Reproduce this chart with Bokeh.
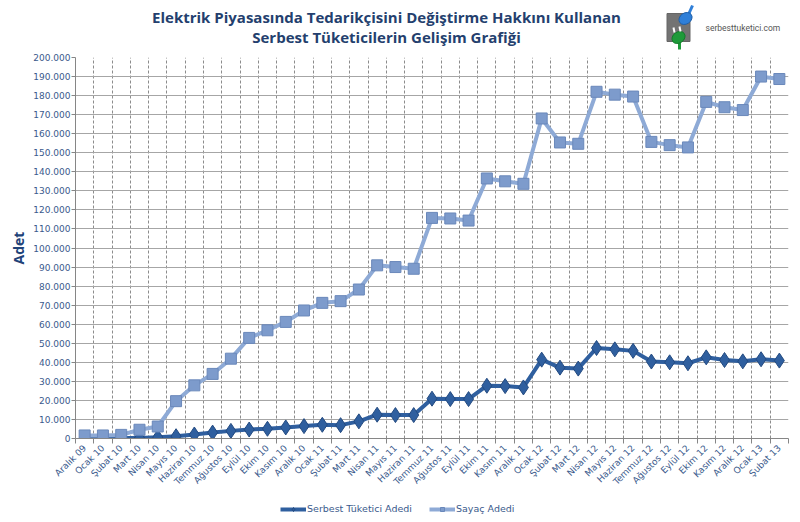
import math
from bokeh.plotting import figure
from bokeh.models import (Range1d, FixedTicker, Legend, LegendItem)
from bokeh.layouts import column
from bokeh.core.properties import value
from bokeh.embed import file_html
from bokeh.resources import INLINE

categories = ["Aralık 09", "Ocak 10", "Şubat 10", "Mart 10", "Nisan 10", "Mayıs 10",
              "Haziran 10", "Temmuz 10", "Ağustos 10", "Eylül 10", "Ekim 10", "Kasım 10",
              "Aralık 10", "Ocak 11", "Şubat 11", "Mart 11", "Nisan 11", "Mayıs 11",
              "Haziran 11", "Temmuz 11", "Ağustos 11", "Eylül 11", "Ekim 11", "Kasım 11",
              "Aralık 11", "Ocak 12", "Şubat 12", "Mart 12", "Nisan 12", "Mayıs 12",
              "Haziran 12", "Temmuz 12", "Ağustos 12", "Eylül 12", "Ekim 12", "Kasım 12",
              "Aralık 12", "Ocak 13", "Şubat 13"]

serbest = [100, 100, 200, 300, 700, 1200, 2100, 3100, 4000, 4700,
           5100, 5800, 6500, 7200, 7000, 9000, 12500, 12300, 12300, 20900,
           20700, 20700, 27700, 27500, 26800, 41400, 37200, 36700, 47500, 46800,
           46000, 40400, 40000, 39500, 42600, 41200, 40500, 41600, 40900]

sayac = [1600, 1600, 1900, 4600, 6300, 19600, 27900, 33900, 41900, 52800,
         56800, 61200, 67200, 71200, 72100, 78200, 90900, 90000, 89100, 115800,
         115500, 114400, 136500, 135000, 133700, 168000, 155400, 154700, 182000, 180500,
         179500, 155700, 154000, 152800, 176700, 173900, 172400, 190000, 188700]

series_names = ["Serbest Tüketici Adedi", "Sayaç Adedi"]
title_lines = ["Elektrik Piyasasında Tedarikçisini Değiştirme Hakkını Kullanan",
               "Serbest Tüketicilerin Gelişim Grafiği"]
y_label = "Adet"
site = "serbesttuketici.com"
y_ticks = list(range(0, 200001, 10000))

TITLE_C = "#243f6e"
TICK_C = "#3a5a8c"
DARK = "#2f5f9f"
LIGHT = "#8eaad6"
W = 792
FL, FR = 75, 788   # frame left / right (page px)


def styled_line(fig, x, y, which):
    if which == 0:
        l = fig.line(x, y, line_color=DARK, line_width=4)
        m = fig.scatter(x, y, marker="diamond", size=15, fill_color=DARK,
                        line_color="#234a80", line_width=1)
    else:
        l = fig.line(x, y, line_color=LIGHT, line_width=4)
        m = fig.scatter(x, y, marker="square", size=11, fill_color="#7d9bcc",
                        line_color="#6a88ba", line_width=1)
    return l, m


# ---------- header (page coordinates) ----------
hdr = figure(width=W, height=53, x_range=Range1d(FL, FR), y_range=Range1d(53, 0),
             output_backend="svg", toolbar_location=None, x_axis_type=None,
             y_axis_type=None)
hdr.min_border_top = 0
hdr.min_border_bottom = 0
hdr.min_border_left = FL
hdr.min_border_right = W - FR
hdr.outline_line_color = None
hdr.grid.visible = False
hdr.text(x=[386, 386], y=[16, 36], text=title_lines, text_align="center",
         text_baseline="middle", text_font=value("Open Sans"),
         text_font_size="15px", text_font_style="bold", text_color=TITLE_C)
# logo
hdr.rect(x=[678], y=[27], width=[23], height=[28], fill_color="#737373",
         line_color="#666666")
hdr.segment(x0=[688], y0=[14], x1=[692], y1=[5], line_color="#2f7fd8", line_width=3)
hdr.ellipse(x=[685], y=[18], width=[14], height=[11], angle=[0.6],
            fill_color="#2f7fd8", line_color="#1f5fa8")
hdr.segment(x0=[679], y0=[40], x1=[679], y1=[49], line_color="#1f9a3a", line_width=3)
hdr.ellipse(x=[678], y=[37], width=[14], height=[11], angle=[0.6],
            fill_color="#1f9a3a", line_color="#137a2a")
hdr.segment(x0=[674, 680], y0=[32, 31], x1=[673, 679], y1=[27, 26],
            line_color="#ffffff", line_width=2)
hdr.text(x=[705], y=[27], text=[site], text_align="left", text_baseline="middle",
         text_font=value("Roboto"), text_font_size="8.5px", text_color="#555555")

# ---------- chart ----------
idx = list(range(len(categories)))
p = figure(width=W, height=441, x_range=Range1d(-0.5, len(categories) - 0.5),
           y_range=Range1d(0, 200000), output_backend="svg", toolbar_location=None)
p.min_border_left = FL
p.min_border_right = W - FR
p.min_border_top = 4
p.min_border_bottom = 56
p.outline_line_color = None

boundaries = [i - 0.5 for i in range(len(categories) + 1)]
p.xaxis.ticker = FixedTicker(ticks=idx, minor_ticks=boundaries)
p.xaxis.major_label_overrides = {i: c for i, c in enumerate(categories)}
p.xaxis.major_label_orientation = math.pi / 4
p.xaxis.major_tick_line_color = None
p.xaxis.minor_tick_in = 0
p.xaxis.minor_tick_out = 5
p.xaxis.minor_tick_line_color = "#868686"
p.xaxis.axis_line_color = "#868686"
p.xaxis.major_label_standoff = 2

p.yaxis.ticker = FixedTicker(ticks=y_ticks)
p.yaxis.major_label_overrides = {v: f"{v:,}".replace(",", ".") for v in y_ticks}
p.yaxis.minor_tick_line_color = None
p.yaxis.major_tick_in = 0
p.yaxis.major_tick_out = 4
p.yaxis.major_tick_line_color = "#868686"
p.yaxis.axis_line_color = "#868686"
p.yaxis.major_label_standoff = 1
p.yaxis.axis_label = y_label
p.yaxis.axis_label_standoff = 2
p.yaxis.axis_label_text_font = "Open Sans"
p.yaxis.axis_label_text_font_size = "14px"
p.yaxis.axis_label_text_font_style = "bold"
p.yaxis.axis_label_text_color = "#1f4379"

for ax in (p.xaxis, p.yaxis):
    ax.major_label_text_font = "DejaVu Sans"
    ax.major_label_text_font_size = "9px"
    ax.major_label_text_color = TICK_C

p.ygrid.ticker = FixedTicker(ticks=y_ticks)
p.ygrid.grid_line_color = "#a6a6a6"
p.xgrid.ticker = FixedTicker(ticks=boundaries[1:])
p.xgrid.grid_line_color = "#8c8c8c"
p.xgrid.grid_line_dash = "3 2"

styled_line(p, idx, serbest, 0)
styled_line(p, idx, sayac, 1)

# ---------- legend strip ----------
# The legend renderers hold the same series; their points fall outside this
# strip's ranges, so only the legend swatches are visible here.
lg = figure(width=W, height=24, x_range=Range1d(FL, FR), y_range=Range1d(0, 24),
            output_backend="svg", toolbar_location=None, x_axis_type=None,
            y_axis_type=None)
lg.min_border_top = 0
lg.min_border_bottom = 0
lg.min_border_left = FL
lg.min_border_right = W - FR
lg.outline_line_color = None
lg.grid.visible = False
r0 = styled_line(lg, idx, serbest, 0)
r1 = styled_line(lg, idx, sayac, 1)
legend = Legend(items=[LegendItem(label=series_names[0], renderers=list(r0)),
                       LegendItem(label=series_names[1], renderers=list(r1))],
                orientation="horizontal", location=(205, 4),
                label_text_font="DejaVu Sans", label_text_font_size="9.5px",
                label_text_color=TICK_C, border_line_color=None,
                background_fill_alpha=0, glyph_width=26, glyph_height=10,
                label_standoff=1, spacing=17, padding=2, margin=0)
lg.add_layout(legend, "center")

layout = column(hdr, p, lg, spacing=0)
open("out.html", "w").write(file_html(layout, INLINE))
